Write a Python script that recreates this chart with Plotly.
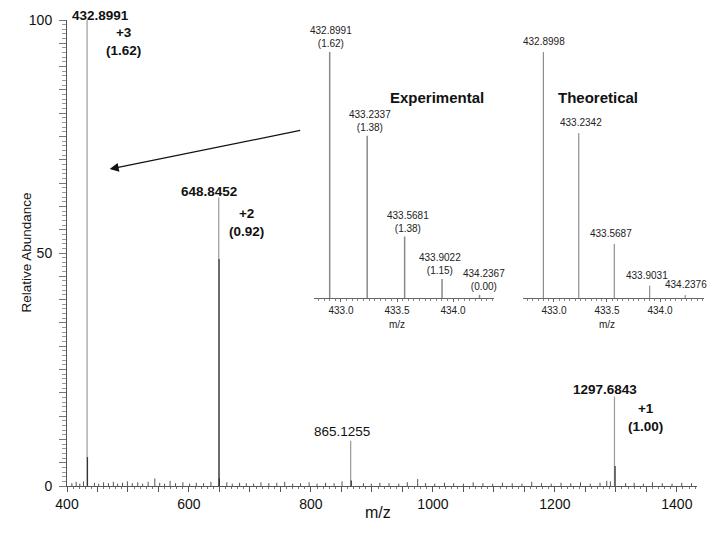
import plotly.graph_objects as go

# main spectrum (m/z, relative abundance)
main_mz = [432.8991, 648.8452, 865.1255, 1297.6843]
main_int = [100, 61.9, 9.7, 19.2]
main_charge = ["+3", "+2", None, "+1"]
main_ratio = ["1.62", "0.92", None, "1.00"]

iso_mz = [433.5681, 649.3466, 649.85, 1298.6877, 866.13]
iso_int = [6.2, 48.7, 1.6, 4.3, 1.2]

noise_mz = [408, 415, 421, 427, 445, 452, 460, 468, 476, 483, 491, 499, 507, 516, 524,
            533, 544, 552, 560, 569, 578, 590, 601, 612, 624, 636, 662, 671, 683, 694,
            706, 718, 731, 744, 757, 770, 783, 797, 810, 824, 838, 851, 886, 899, 913,
            928, 944, 958, 975, 988, 1003, 1019, 1034, 1050, 1066, 1082, 1098, 1114, 1130,
            1146, 1162, 1178, 1194, 1210, 1226, 1242, 1258, 1274, 1285, 1291, 1316, 1330,
            1345, 1360, 1376, 1392, 1408, 1424]
noise_int = [0.6, 0.9, 0.5, 1.0, 0.7, 0.5, 0.8, 0.6, 0.9, 0.5, 0.7, 1.0, 0.6, 0.8, 0.5,
             0.9, 1.6, 0.7, 0.5, 1.1, 0.6, 0.8, 0.5, 0.7, 0.6, 0.9, 0.8, 0.5, 0.7, 0.6,
             0.5, 0.8, 0.6, 0.7, 0.9, 0.5, 0.6, 0.8, 0.5, 0.7, 0.6, 1.0, 0.6, 0.5, 0.7,
             0.6, 0.5, 0.8, 1.5, 0.6, 0.5, 0.7, 0.6, 0.5, 0.8, 0.6, 0.5, 0.7, 0.6,
             0.5, 0.9, 0.6, 0.5, 0.7, 0.6, 0.8, 0.5, 0.7, 1.1, 1.0, 0.6, 0.7,
             0.5, 0.8, 0.6, 0.5, 0.7, 0.6]

# isotope clusters (insets)
exp_mz = [432.8991, 433.2337, 433.5681, 433.9022, 434.2367]
exp_int = [100, 66, 25, 7.7, 1.3]
exp_err = ["1.62", "1.38", "1.38", "1.15", "0.00"]
theo_mz = [432.8998, 433.2342, 433.5687, 433.9031, 434.2376]
theo_int = [100, 67, 22, 5, 1.2]

main_ticks = [400, 600, 800, 1000, 1200, 1400]
inset_ticks = [433.0, 433.5, 434.0]

FONT = "Liberation Sans, Arial, sans-serif"


def sticks(mz, inten):
    xs, ys = [], []
    for m, h in zip(mz, inten):
        xs += [m, m, None]
        ys += [0, h, None]
    return xs, ys


W, H = 720, 536
L, R, T, B = 67, 16, 20, 50
pw, ph = W - L - R, H - T - B


def px(x):
    return (x - L) / pw


def py(y):
    return (H - B - y) / ph


fig = go.Figure()

nx, ny = sticks(noise_mz, noise_int)
fig.add_trace(go.Scatter(x=nx, y=ny, mode="lines", line=dict(color="#555", width=1),
                         hoverinfo="skip", showlegend=False))
mx, my = sticks(main_mz, main_int)
fig.add_trace(go.Scatter(x=mx, y=my, mode="lines", line=dict(color="#999", width=1.2),
                         showlegend=False))
ix, iy = sticks(iso_mz, iso_int)
fig.add_trace(go.Scatter(x=ix, y=iy, mode="lines", line=dict(color="#333", width=1.2),
                         showlegend=False))

ex, ey = sticks(exp_mz, exp_int)
fig.add_trace(go.Scatter(x=ex, y=ey, xaxis="x2", yaxis="y2", mode="lines",
                         line=dict(color="#888", width=1.5), showlegend=False))
tx, ty = sticks(theo_mz, theo_int)
fig.add_trace(go.Scatter(x=tx, y=ty, xaxis="x3", yaxis="y3", mode="lines",
                         line=dict(color="#777", width=1), showlegend=False))

ann = []
# main peak labels
shifts = [(13, 5, 36, -21), (-10, 6, 28, -25), (-9, 9, 0, 0), (-9, 7, 31, -21)]
for m, h, z, r, (dx, dy, zx, zy) in zip(main_mz, main_int, main_charge, main_ratio, shifts):
    bold = z is not None
    lab = "<b>%s</b>" % format(m, ".4f") if bold else format(m, ".4f")
    ann.append(dict(x=m, y=h, xref="x", yref="y", text=lab, showarrow=False,
                    xshift=dx, yshift=dy, font=dict(size=13.5, color="#111")))
    if bold:
        ann.append(dict(x=m, y=h, xref="x", yref="y", text="<b>%s<br>(%s)</b>" % (z, r),
                        showarrow=False, xshift=zx, yshift=zy,
                        font=dict(size=13.5, color="#111")))

# inset peak labels
exp_dx = [1, 3, 3, -2, 4]
for m, h, e, dx in zip(exp_mz, exp_int, exp_err, exp_dx):
    ann.append(dict(x=m, y=h, xref="x2", yref="y2", text="%s<br>(%s)" % (format(m, ".4f"), e),
                    showarrow=False, yanchor="bottom", yshift=1, xshift=dx,
                    font=dict(size=10, color="#222")))
theo_dx = [1, 2, -3, -3, 1]
for m, h, dx in zip(theo_mz, theo_int, theo_dx):
    ann.append(dict(x=m, y=h, xref="x3", yref="y3", text=format(m, ".4f"),
                    showarrow=False, yanchor="bottom", yshift=3, xshift=dx,
                    font=dict(size=10, color="#222")))

ann.append(dict(x=px(437), y=py(87), xref="paper", yref="paper", text="<b>Experimental</b>",
                showarrow=False, font=dict(size=15, color="#111")))
ann.append(dict(x=px(640), y=py(87), xref="paper", yref="paper", text="<b>Theoretical</b>",
                showarrow=False, font=dict(size=15, color="#111")))
for xa, ya in [("x2", "y2 domain"), ("x3", "y3 domain")]:
    ann.append(dict(x=433.5, y=0, xref=xa, yref=ya, text="m/z", showarrow=False,
                    yanchor="middle", yshift=-26, font=dict(size=10, color="#222")))

# axis titles
ann.append(dict(x=px(378), y=py(523), xref="paper", yref="paper", text="m/z",
                showarrow=False, font=dict(size=16, color="#111")))
ann.append(dict(x=px(16), y=py(253), xref="paper", yref="paper", text="Relative Abundance",
                textangle=-90, showarrow=False, font=dict(size=13.5, color="#111")))

# arrow
ann.append(dict(x=470, y=68, xref="x", yref="y", text="", showarrow=True,
                ax=192, ay=-39, arrowhead=2, arrowsize=1.5, arrowwidth=1.2,
                arrowcolor="#111"))

yvals = list(range(0, 101, 5))
xvals = list(range(400, 1451, 50))

inset_axis = dict(showline=True, linecolor="#666", linewidth=1, ticks="outside",
                  ticklen=3, tickcolor="#666", tickvals=inset_ticks,
                  ticktext=[format(v, ".1f") for v in inset_ticks],
                  tickfont=dict(size=10, color="#222"), showgrid=False, zeroline=False,
                  minor=dict(dtick=0.05, tick0=433, ticks="outside", ticklen=2,
                             tickcolor="#888", showgrid=False))

fig.update_layout(
    width=W, height=H,
    margin=dict(l=L, r=R, t=T, b=B),
    paper_bgcolor="white", plot_bgcolor="white",
    font=dict(family=FONT, color="#111"),
    showlegend=False,
    annotations=ann,
    xaxis=dict(domain=[0, 630 / pw], range=[400, 1433], showline=True, linecolor="#555",
               ticks="outside", ticklen=5, tickcolor="#555", tickmode="array",
               tickvals=xvals, ticktext=[str(v) if v in main_ticks else "" for v in xvals],
               tickfont=dict(size=14), showgrid=False, zeroline=False,
               minor=dict(dtick=10, ticks="outside", ticklen=2, tickcolor="#777")),
    yaxis=dict(domain=[0, 1], range=[0, 100], showline=True, linecolor="#555",
               ticks="outside", ticklen=7, tickcolor="#777", tickmode="array",
               tickvals=yvals, ticktext=[str(v) if v % 50 == 0 else "" for v in yvals],
               tickfont=dict(size=14), showgrid=False, zeroline=False,
               ticklabelstandoff=4,
               minor=dict(dtick=1, ticks="outside", ticklen=4, tickcolor="#999")),
    xaxis2=dict(domain=[px(314), px(494)], range=[432.759, 434.366], anchor="y2",
                **inset_axis),
    yaxis2=dict(domain=[py(298), py(52)], range=[0, 100], anchor="x2", visible=False),
    xaxis3=dict(domain=[px(523), min(1, px(704))], range=[432.708, 434.415], anchor="y3",
                **inset_axis),
    yaxis3=dict(domain=[py(298), py(52)], range=[0, 100], anchor="x3", visible=False),
)

fig.write_html("out.html", config={"displayModeBar": False},
               post_script="document.body.style.margin='0';")
